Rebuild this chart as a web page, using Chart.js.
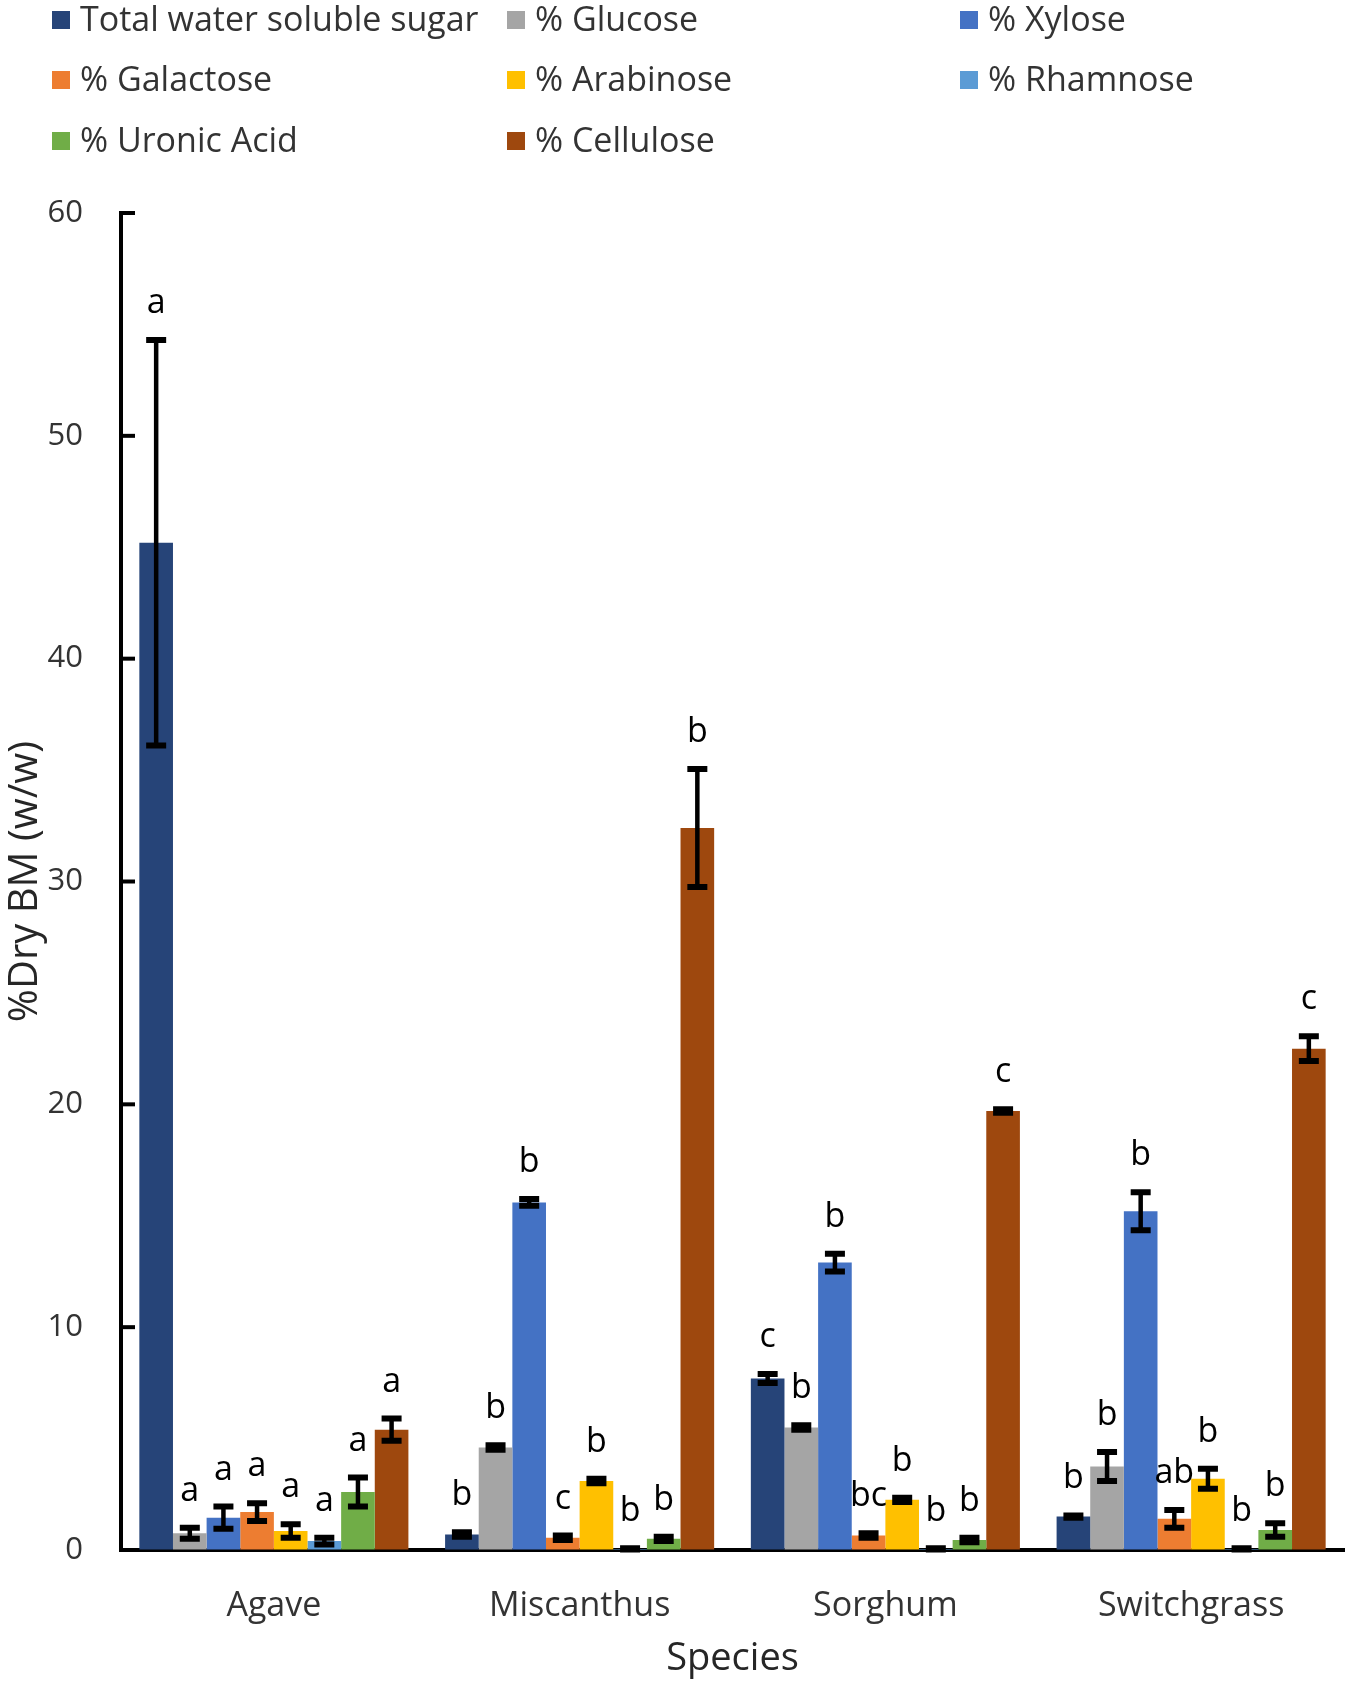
<!DOCTYPE html>
<html>
<head>
<meta charset="utf-8">
<script src="https://cdn.jsdelivr.net/npm/chart.js@4/dist/chart.umd.min.js"></script>
<style>
  html, body { margin: 0; padding: 0; background: #fff; }
  #wrap { width: 1350px; height: 1682px; }
</style>
</head>
<body>
<div id="wrap"><canvas id="sugarChart" width="1350" height="1682"></canvas></div>
<script>
// species on the x axis
const species = ["Agave", "Miscanthus", "Sorghum", "Switchgrass"];

// y axis ticks
const yTicks = [0, 10, 20, 30, 40, 50, 60];

// series names
const seriesNames = ["Total water soluble sugar", "% Glucose", "% Xylose", "% Galactose",
                     "% Arabinose", "% Rhamnose", "% Uronic Acid", "% Cellulose"];

// mean values (% dry BM), per species
const totalSugar = [45.2, 0.7, 7.7, 1.5];
const glucose    = [0.75, 4.6, 5.5, 3.75];
const xylose     = [1.45, 15.6, 12.9, 15.2];
const galactose  = [1.7, 0.55, 0.65, 1.4];
const arabinose  = [0.85, 3.1, 2.25, 3.2];
const rhamnose   = [0.4, 0.05, 0.05, 0.05];
const uronicAcid = [2.6, 0.5, 0.45, 0.9];
const cellulose  = [5.4, 32.4, 19.7, 22.5];

// error bars (+/-)
const totalSugarErr = [9.1, 0.1, 0.2, 0.05];
const glucoseErr    = [0.25, 0.1, 0.1, 0.65];
const xyloseErr     = [0.5, 0.15, 0.4, 0.85];
const galactoseErr  = [0.4, 0.1, 0.1, 0.4];
const arabinoseErr  = [0.3, 0.1, 0.1, 0.45];
const rhamnoseErr   = [0.15, 0.03, 0.03, 0.03];
const uronicAcidErr = [0.65, 0.1, 0.1, 0.3];
const celluloseErr  = [0.5, 2.65, 0.08, 0.55];

// significance letters
const totalSugarSig = ["a", "b", "c", "b"];
const glucoseSig    = ["a", "b", "b", "b"];
const xyloseSig     = ["a", "b", "b", "b"];
const galactoseSig  = ["a", "c", "bc", "ab"];
const arabinoseSig  = ["a", "b", "b", "b"];
const rhamnoseSig   = ["a", "b", "b", "b"];
const uronicAcidSig = ["a", "b", "b", "b"];
const celluloseSig  = ["a", "b", "c", "c"];

const colors = ["#264478", "#A5A5A5", "#4472C4", "#ED7D31", "#FFC000", "#5B9BD5", "#70AD47", "#9E480E"];

const values  = [totalSugar, glucose, xylose, galactose, arabinose, rhamnose, uronicAcid, cellulose];
const errors  = [totalSugarErr, glucoseErr, xyloseErr, galactoseErr, arabinoseErr, rhamnoseErr, uronicAcidErr, celluloseErr];
const letters = [totalSugarSig, glucoseSig, xyloseSig, galactoseSig, arabinoseSig, rhamnoseSig, uronicAcidSig, celluloseSig];

const FONT = "'Open Sans', 'Noto Sans', sans-serif";

/* ------------------------------------------ plugins ------------------------------------------ */

// error bars + letters on top of each bar
const errorBars = {
    id: "errorBars",
    afterDatasetsDraw (chart) {
        const ctx = chart.ctx, y = chart.scales.y;
        ctx.save();
        chart.data.datasets.forEach((ds, i) => {
            chart.getDatasetMeta(i).data.forEach((bar, j) => {
                const v = ds.data[j], e = ds.errors[j];
                const top = y.getPixelForValue(v + e), bot = y.getPixelForValue(Math.max(v - e, 0));
                ctx.strokeStyle = "#000";
                ctx.lineWidth = 4.5;
                ctx.beginPath(); ctx.moveTo(bar.x, top); ctx.lineTo(bar.x, bot); ctx.stroke();
                ctx.lineWidth = 6;
                ctx.beginPath();
                ctx.moveTo(bar.x - 10, top); ctx.lineTo(bar.x + 10, top);
                ctx.moveTo(bar.x - 10, bot); ctx.lineTo(bar.x + 10, bot);
                ctx.stroke();
                ctx.fillStyle = "#000";
                ctx.font = "34px " + FONT;
                ctx.textAlign = "center";
                ctx.textBaseline = "alphabetic";
                ctx.fillText(ds.letters[j], bar.x, top - 27);
            });
        });
        ctx.restore(); }
};

// inward tick marks on the y axis
const innerTicks = {
    id: "innerTicks",
    afterDraw (chart) {
        const ctx = chart.ctx, y = chart.scales.y, x0 = chart.chartArea.left;
        ctx.save(); ctx.strokeStyle = "#000"; ctx.lineWidth = 4;
        y.ticks.forEach((t) => {
            const py = y.getPixelForValue(t.value);
            ctx.beginPath(); ctx.moveTo(x0, py); ctx.lineTo(x0 + 14, py); ctx.stroke(); });
        ctx.restore(); }
};

// legend in three fixed columns
const gridLegend = {
    id: "gridLegend",
    afterDraw (chart) {
        const ctx = chart.ctx, colX = [52, 507, 960], rowY = [20, 80, 141];
        ctx.save();
        ctx.font = "34px " + FONT; ctx.textBaseline = "middle"; ctx.textAlign = "left";
        chart.data.datasets.forEach((ds, i) => {
            const cx = colX[i % 3], cy = rowY[Math.floor(i / 3)];
            ctx.fillStyle = ds.backgroundColor;
            ctx.fillRect(cx, cy - 9, 18, 18);
            ctx.fillStyle = "#333333";
            ctx.fillText(ds.label, cx + 28, cy + 1); });
        ctx.restore(); }
};

/* ------------------------------------------ chart -------------------------------------------- */

const sugarChart = new Chart("sugarChart", {
    type: "bar",
    data: {
        labels: species,
        datasets: seriesNames.map((name, i) => ({
            label: name,
            data: values[i],
            errors: errors[i],
            letters: letters[i],
            backgroundColor: colors[i],
            borderWidth: 0
        }))
    },
    options: {
        responsive: false,
        animation: false,
        devicePixelRatio: 1,
        barPercentage: 1,
        categoryPercentage: 0.88,
        layout: { padding: { top: 213, right: 6, left: 0, bottom: 0 } },
        plugins: {
            legend: { display: false },
            tooltip: { enabled: false }
        },
        scales: {
            x: {
                grid: { display: false, drawTicks: false },
                border: { color: "#000", width: 4 },
                ticks: { color: "#333333", font: { family: FONT, size: 34 }, padding: 36 },
                title: { display: true, text: "Species", color: "#262626",
                         font: { family: FONT, size: 38 }, padding: { top: 0, bottom: 0 } },
                afterFit (scale) { scale.height = 132; }
            },
            y: {
                min: 0, max: 60,
                afterBuildTicks (scale) { scale.ticks = yTicks.map((v) => ({ value: v })); },
                grid: { drawOnChartArea: false, drawTicks: false },
                border: { color: "#000", width: 4 },
                ticks: { color: "#333333", font: { family: FONT, size: 31 }, padding: 38 },
                title: { display: true, text: "%Dry BM (w/w)", color: "#262626",
                         font: { family: FONT, size: 40 }, padding: { top: 2, bottom: 0 } },
                afterFit (scale) { scale.width = 121; }
            }
        }
    },
    plugins: [errorBars, innerTicks, gridLegend]
});
</script>
</body>
</html>
